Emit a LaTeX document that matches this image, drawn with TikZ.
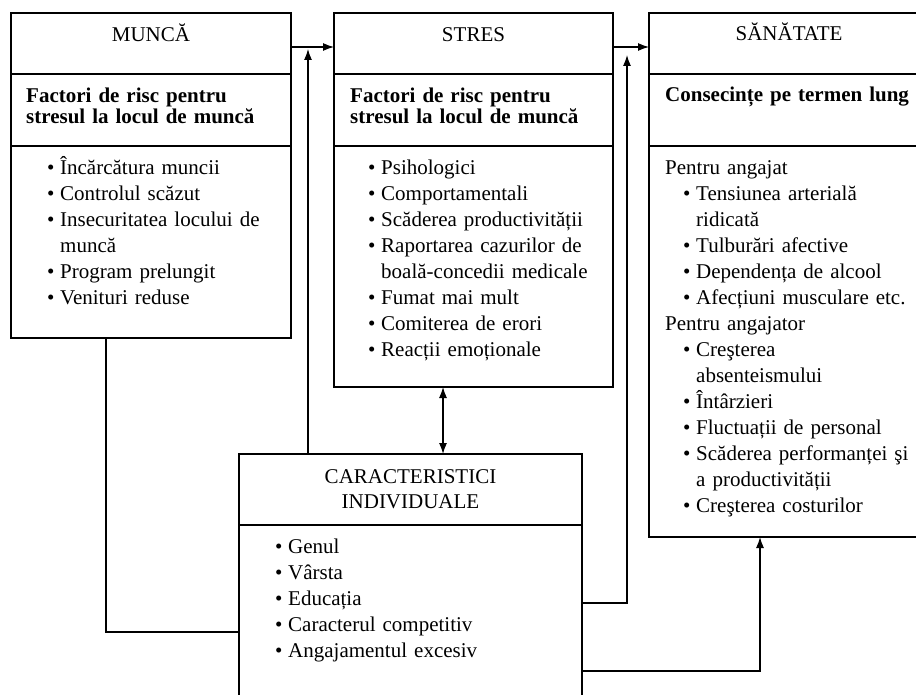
\documentclass[tikz,border=0pt]{standalone}
\usepackage{fontspec}
\setmainfont{Liberation Serif}
\usetikzlibrary{positioning,arrows.meta}

\newcommand{\itemdot}{\makebox[13pt][l]{\textbullet}}
\newcommand{\itemgap}{\hspace*{13pt}}
\newcommand{\deeper}{\hspace*{18pt}}

\begin{document}
\begin{tikzpicture}[x=1pt, y=-1pt,
    part/.style={draw, line width=1.2pt, inner sep=0pt, outer sep=0pt},
    head/.style={anchor=base, inner sep=0pt, text width=320pt, align=center, font=\fontsize{21}{25}\selectfont},
    sub/.style={anchor=base west, inner sep=0pt, text width=255pt, align=left, font=\bfseries\fontsize{21}{21}\selectfont},
    lst/.style={anchor=base west, inner sep=0pt, text width=255pt, align=left, font=\fontsize{21}{26}\selectfont},
    wire/.style={line width=1.2pt},
    tip/.style={-{Latex[length=11pt,width=8pt]}}]
    \clip (0,0) rectangle (916,695);

    \node[part, minimum width=280pt, minimum height=61pt, anchor=north west] (munca) at (11,13) {};
    \node[part, minimum width=280pt, minimum height=72pt, below=0pt of munca] (muncaf) {};
    \node[part, minimum width=280pt, minimum height=192pt, below=0pt of muncaf] (muncal) {};
    \node[head] (muncaT) at ([yshift=-29pt]munca.north) {MUNCĂ};
    \node[sub] (muncaFT) at ([xshift=15pt, yshift=-29pt]muncaf.north west) {Factori de risc pentru\\stresul la locul de muncă};
    \node[lst] (muncaLT) at ([xshift=36pt, yshift=-29pt]muncal.north west) {\itemdot Încărcătura muncii\\
        \itemdot Controlul scăzut\\
        \itemdot Insecuritatea locului de\\
        \itemgap muncă\\
        \itemdot Program prelungit\\
        \itemdot Venituri reduse};

    \node[part, minimum width=279pt, minimum height=61pt, anchor=north west] (stres) at (334,13) {};
    \node[part, minimum width=279pt, minimum height=72pt, below=0pt of stres] (stresf) {};
    \node[part, minimum width=279pt, minimum height=241pt, below=0pt of stresf] (stresl) {};
    \node[head] (stresT) at ([yshift=-29pt]stres.north) {STRES};
    \node[sub] (stresFT) at ([xshift=16pt, yshift=-29pt]stresf.north west) {Factori de risc pentru\\stresul la locul de muncă};
    \node[lst] (stresLT) at ([xshift=34pt, yshift=-29pt]stresl.north west) {\itemdot Psihologici\\
        \itemdot Comportamentali\\
        \itemdot Scăderea productivității\\
        \itemdot Raportarea cazurilor de\\
        \itemgap boală-concedii medicale\\
        \itemdot Fumat mai mult\\
        \itemdot Comiterea de erori\\
        \itemdot Reacții emoționale};

    \node[part, minimum width=280pt, minimum height=61pt, anchor=north west] (sanatate) at (649,13) {};
    \node[part, minimum width=280pt, minimum height=72pt, below=0pt of sanatate] (sanatatef) {};
    \node[part, minimum width=280pt, minimum height=391pt, below=0pt of sanatatef] (sanatatel) {};
    \node[head] (sanatateT) at ([yshift=-28pt]sanatate.north) {SĂNĂTATE};
    \node[sub] (sanatateFT) at ([xshift=16pt, yshift=-28pt]sanatatef.north west) {Consecințe pe termen lung};
    \node[lst] (sanatateLT) at ([xshift=16pt, yshift=-29pt]sanatatel.north west) {Pentru angajat\\
        \deeper\itemdot Tensiunea arterială\\
        \deeper\itemgap ridicată\\
        \deeper\itemdot Tulburări afective\\
        \deeper\itemdot Dependența de alcool\\
        \deeper\itemdot Afecțiuni musculare etc.\\
        Pentru angajator\\
        \deeper\itemdot Creşterea\\
        \deeper\itemgap absenteismului\\
        \deeper\itemdot Întârzieri\\
        \deeper\itemdot Fluctuații de personal\\
        \deeper\itemdot Scăderea performanței şi\\
        \deeper\itemgap a productivității\\
        \deeper\itemdot Creşterea costurilor};

    \node[part, minimum width=343pt, minimum height=71pt, anchor=north west] (caract) at (239,454) {};
    \node[part, minimum width=343pt, minimum height=175pt, below=0pt of caract] (caractl) {};
    \node[head] (caractT) at ([yshift=-29pt]caract.north) {CARACTERISTICI\\INDIVIDUALE};
    \node[lst] (caractLT) at ([xshift=36pt, yshift=-28pt]caractl.north west) {\itemdot Genul\\
        \itemdot Vârsta\\
        \itemdot Educația\\
        \itemdot Caracterul competitiv\\
        \itemdot Angajamentul excesiv};

    \coordinate (jm) at (308,47);
    \coordinate (js) at (627,47);
    \coordinate (rs) at (627,603);
    \coordinate (rh) at (760,671);
    \coordinate (lm) at (106,632);
    \coordinate (dc) at (443,420);

    \draw[wire, tip] (munca.east |- jm) -- (stres.west |- jm);
    \draw[wire, tip] (stres.east |- js) -- (sanatate.west |- js);
    \draw[wire, tip, shorten >=2pt] (caract.north -| jm) -- (jm);
    \draw[wire, tip, shorten >=8pt] (caractl.east |- rs) -- (rs) -- (js);
    \draw[wire, tip] (caractl.east |- rh) -- (rh) -- (sanatatel.south -| rh);
    \draw[wire] (muncal.south -| lm) -- (lm) -- (caractl.west |- lm);
    \draw[wire, {Latex[length=11pt,width=8pt]}-{Latex[length=11pt,width=8pt]}] (stresl.south -| dc) -- (caract.north -| dc);
\end{tikzpicture}
\end{document}
